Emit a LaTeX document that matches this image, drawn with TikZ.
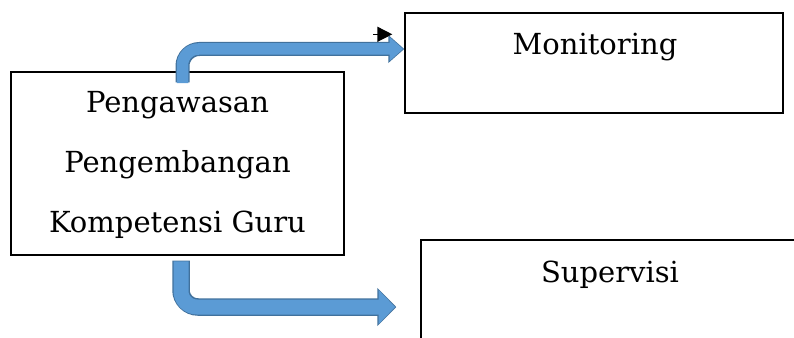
\documentclass[tikz,border=0pt]{standalone}
\usepackage{fontspec}
\setmainfont{DejaVu Serif}
\usepackage{tikz}
\usetikzlibrary{
  arrows.meta,
  positioning,
  calc
}
\usepackage{xcolor}
\definecolor{arrowfill}{HTML}{5B9BD5}
\definecolor{arrowedge}{HTML}{41719C}

\begin{document}
\begin{tikzpicture}[
  x=1pt, y=-1pt,
  box/.style={draw, line width=1.4pt, minimum width=#1, inner sep=0pt},
  boxtext/.style={font=\fontsize{29}{60}\selectfont, align=center},
  edgepass/.style={arrowedge, line width=#1, rounded corners=17pt},
  fillpass/.style={arrowfill, line width=#1, rounded corners=16pt}
]
  \clip (0,0) rectangle (794,337);

  \node[box=333pt, minimum height=183pt] (src) at (177.5,163.5) {};
  \node[boxtext, anchor=base] (srctext) at ($(src.north)+(0pt,-161pt)$)
    {Pengawasan\\Pengembangan\\Kompetensi Guru};
  \node[box=378pt, minimum height=100pt] (mon) at (594,63) {};
  \node[box=378pt, minimum height=110pt] (sup) at (610,295) {};

  \node[boxtext, anchor=base] (montext) at ($(mon.north)+(1pt,-42pt)$) {Monitoring};
  \node[boxtext, anchor=base] (suptext) at ($(sup.north)+(0pt,-43pt)$) {Supervisi};

  % block arrows
  \draw[edgepass=14pt, -{Triangle[length=16pt, width=27pt]}]
    ([shift={(5pt,-11pt)}]src.north) |- ([yshift=14pt]mon.west);
  \draw[fillpass=11.5pt, -{Triangle[length=13.5pt, width=23pt]}, shorten >=1.2pt]
    ([shift={(5pt,-11.7pt)}]src.north) |- ([yshift=14pt]mon.west);

  \draw[edgepass=17.5pt, -{Triangle[length=19pt, width=37pt]}]
    ([shift={(3.5pt,-5pt)}]src.south) |- ([shift={(-24pt,-12pt)}]sup.west);
  \draw[fillpass=15pt, -{Triangle[length=16.5pt, width=33pt]}, shorten >=1.2pt]
    ([shift={(3.5pt,-5.7pt)}]src.south) |- ([shift={(-24pt,-12pt)}]sup.west);

  \coordinate (tailA) at ([shift={(-31pt,-22pt)}]mon.north west);
  \coordinate (headA) at ([shift={(-12pt,-22pt)}]mon.north west);
  \draw[line width=1.5pt, -{Triangle[length=15pt, width=15pt]}] (tailA) -- (headA);
\end{tikzpicture}
\end{document}
